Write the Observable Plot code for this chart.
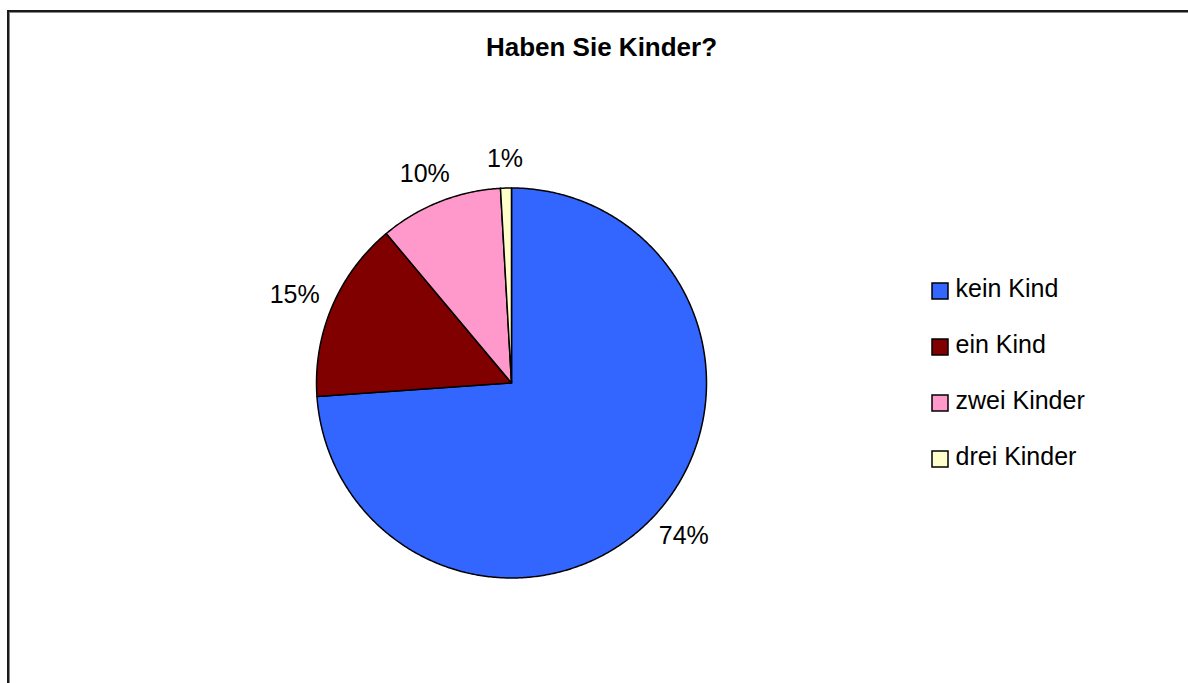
<!DOCTYPE html>
<html>
<head>
<meta charset="utf-8">
<script src="https://cdn.jsdelivr.net/npm/d3@7"></script>
<script src="https://cdn.jsdelivr.net/npm/@observablehq/plot@0.6"></script>
<style>
  html, body { margin: 0; padding: 0; background: #fff; overflow: hidden; }
  #frame { position: absolute; left: 7px; top: 10px; width: 1400px; height: 1000px;
           border-top: 2px solid #1a1a1a; border-left: 2px solid #1a1a1a;
           box-shadow: 1px 1px 0 #888 inset; }
  #chart { position: absolute; left: 0; top: 0; }
</style>
</head>
<body>
<div id="frame"></div>
<div id="chart"></div>
<script>
const title = "Haben Sie Kinder?";
const categories = ["kein Kind", "ein Kind", "zwei Kinder", "drei Kinder"];
const values = [73.9, 15.0, 10.2, 0.9];
const colors = ["#3366FF", "#800000", "#FF99CC", "#FFFFCC"];

// layout (pixels)
const W = 1188, H = 683;
const cx = 511, cy = 382.5, R = 195;
const font = "Liberation Sans, Arial, sans-serif";

const arcs = d3.pie().sort(null).value(d => d)(values);

// slice outlines
const piePoints = [];
arcs.forEach((a, i) => {
  const cat = categories[i];
  piePoints.push({cat, x: cx, y: cy});
  const n = Math.max(2, Math.ceil((a.endAngle - a.startAngle) / (Math.PI / 360)));
  for (let k = 0; k <= n; k++) {
    const t = a.startAngle + (a.endAngle - a.startAngle) * k / n;
    piePoints.push({cat, x: cx + R * Math.sin(t), y: cy - R * Math.cos(t)});
  }
  piePoints.push({cat, x: cx, y: cy});
});

// percentage labels outside the pie
const fs = 25;
const labels = arcs.map((a, i) => {
  const t = (a.startAngle + a.endAngle) / 2;
  const txt = Math.round(values[i]) + "%";
  const w = txt.length * 0.55 * fs, h = 0.75 * fs;
  const g = 20;
  return {
    text: txt,
    x: cx + (R + g) * Math.sin(t) + Math.sin(t) * w / 2,
    y: cy - (R + g) * Math.cos(t) - Math.cos(t) * h / 2
  };
});

// legend rows
const legX = 932, legY0 = 283, legStep = 56, sw = 16;
const legend = categories.map((c, i) => ({
  cat: c, x1: legX, x2: legX + sw, y1: legY0 + i * legStep, y2: legY0 + i * legStep + sw,
  tx: legX + sw + 7, ty: legY0 + i * legStep + sw / 2 - 3
}));

const chart = Plot.plot({
  width: W, height: H,
  margin: 0,
  x: {type: "linear", domain: [0, W], range: [0, W], axis: null},
  y: {type: "linear", domain: [0, H], range: [0, H], axis: null},
  color: {domain: categories, range: colors},
  style: {fontFamily: font, background: "transparent"},
  marks: [
    Plot.line(piePoints, {x: "x", y: "y", z: "cat", fill: "cat", stroke: "black",
      strokeWidth: 1.5, strokeLinejoin: "round", curve: "linear"}),
    Plot.text(labels, {x: "x", y: "y", text: "text", fontSize: fs, fill: "black",
      textAnchor: "middle", lineAnchor: "middle", fontFamily: font}),
    Plot.text([title], {x: () => 601, y: () => 47, text: d => d, fontSize: 26,
      fontWeight: "bold", fill: "black", textAnchor: "middle", lineAnchor: "middle", fontFamily: font}),
    Plot.rect(legend, {x1: "x1", x2: "x2", y1: "y1", y2: "y2", fill: "cat",
      stroke: "black", strokeWidth: 1.5}),
    Plot.text(legend, {x: "tx", y: "ty", text: "cat", fontSize: 25, fill: "black",
      textAnchor: "start", lineAnchor: "middle", fontFamily: font})
  ]
});
document.getElementById("chart").appendChild(chart);
</script>
</body>
</html>
